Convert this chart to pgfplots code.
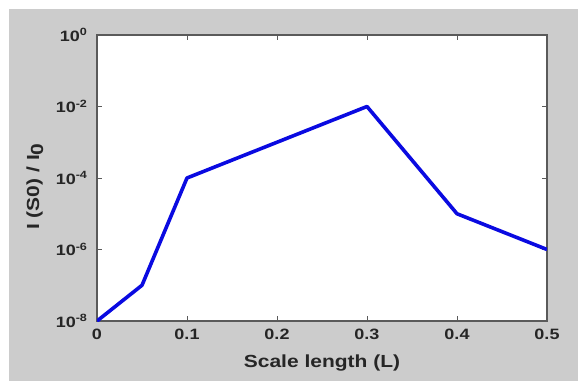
\documentclass[border=0pt]{standalone}
\usepackage{fontspec}
\setmainfont{Liberation Sans}[FakeStretch=1.2]
\usepackage{pgfplots}
\pgfplotsset{compat=1.18}
\definecolor{figgray}{RGB}{204,204,204}
\definecolor{axgray}{RGB}{90,90,90}
\definecolor{lineblue}{RGB}{10,10,225}
\begin{document}
\begin{tikzpicture}
\useasboundingbox (-97bp,-60bp) rectangle (481bp,321bp);
\fill[white] (-97bp,-60bp) rectangle (481bp,321bp);
\fill[figgray] (-88bp,-60bp) rectangle (481bp,312bp);
\begin{axis}[
  at={(0,0)}, anchor=south west,
  scale only axis, width=450bp, height=286bp,
  xmin=0, xmax=0.5,
  ymode=log, ymin=1e-8, ymax=1,
  axis background/.style={fill=white},
  axis line style={draw=axgray, line width=1.1bp},
  every tick/.style={draw=axgray, line width=0.8bp},
  major tick length=5bp,
  minor y tick style={draw=none},
  xtick={0,0.1,0.2,0.3,0.4,0.5},
  xticklabels={0,0.1,0.2,0.3,0.4,0.5},
  ytick={1e-8,1e-6,1e-4,1e-2,1},
  yticklabels={10\textsuperscript{-8},10\textsuperscript{-6},10\textsuperscript{-4},10\textsuperscript{-2},10\textsuperscript{0}},
  ticklabel style={font=\fontsize{15bp}{17bp}\selectfont\bfseries, text=black!85},
  xticklabel style={anchor=north, yshift=-5bp},
  yticklabel style={anchor=east, xshift=-6bp},
  xlabel={Scale length (L)},
  ylabel={I (S0) / I\raisebox{-0.45ex}{0}},
  label style={font=\fontsize{17.5bp}{19bp}\selectfont\bfseries, text=black!85},
  xlabel style={at={(axis description cs:0.5,0)}, anchor=base, yshift=-46bp},
  ylabel style={at={(axis description cs:-0.138,0.47)}, anchor=center},
]
\addplot[lineblue, line width=3.6bp, line join=round] coordinates {
  (0,1e-8) (0.05,1e-7) (0.1,1e-4) (0.2,1e-3) (0.3,1e-2) (0.4,1e-5) (0.5,1e-6)
};
\end{axis}
\end{tikzpicture}
\end{document}
